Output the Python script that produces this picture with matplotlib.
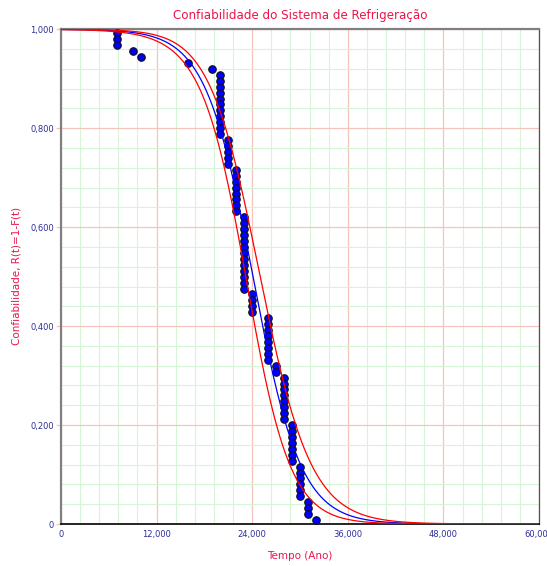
"""Reliability vs time plot for the refrigeration system, with fit and bounds."""
import matplotlib

matplotlib.use("Agg")
import matplotlib.pyplot as plt
import numpy as np
from matplotlib.ticker import MultipleLocator

TITLE = "Confiabilidade do Sistema de Refrigeração"
X_LABEL = "Tempo (Ano)"
Y_LABEL = "Confiabilidade, R(t)=1-F(t)"

# failure times (years), one entry per plotted point
FAILURE_TIMES = [
    7, 7, 7, 9, 10, 16, 19,
    20, 20, 20, 20, 20, 20, 20, 20, 20, 20, 20,
    21, 21, 21, 21, 21,
    22, 22, 22, 22, 22, 22, 22, 22,
    23, 23, 23, 23, 23, 23, 23, 23, 23, 23, 23, 23, 23,
    24, 24, 24, 24,
    26, 26, 26, 26, 26, 26, 26, 26,
    27, 27,
    28, 28, 28, 28, 28, 28, 28, 28,
    29, 29, 29, 29, 29, 29, 29,
    30, 30, 30, 30, 30, 30,
    31, 31, 31,
    32,
]
# plotted reliability of each point
RELIABILITY = [
    0.992, 0.980, 0.968, 0.956, 0.944, 0.932, 0.920,
    0.908, 0.896, 0.884, 0.872, 0.860, 0.848, 0.836, 0.824, 0.812, 0.800, 0.788,
    0.776, 0.764, 0.752, 0.740, 0.728,
    0.716, 0.704, 0.692, 0.680, 0.668, 0.656, 0.644, 0.632,
    0.620, 0.608, 0.596, 0.584, 0.572, 0.560, 0.548, 0.536, 0.524, 0.512,
    0.500, 0.488, 0.476,
    0.464, 0.452, 0.440, 0.428,
    0.416, 0.404, 0.392, 0.380, 0.368, 0.356, 0.344, 0.332,
    0.320, 0.308,
    0.296, 0.284, 0.272, 0.260, 0.248, 0.236, 0.224, 0.212,
    0.200, 0.188, 0.176, 0.164, 0.152, 0.140, 0.128,
    0.116, 0.104, 0.092, 0.080, 0.068, 0.056,
    0.044, 0.032, 0.020,
    0.008,
]

# fitted logistic line and its confidence bounds (time units)
FIT_MU = 24.1
FIT_SCALE = 3.0
BOUND_K = 1.645
VAR_MU = 0.30
VAR_SCALE = 0.035
COV_MU_SCALE = 0.062

X_TICKS = [0, 12, 24, 36, 48, 60]
X_TICK_LABELS = ["0", "12,000", "24,000", "36,000", "48,000", "60,000"]
Y_TICKS = [0, 0.2, 0.4, 0.6, 0.8, 1.0]
Y_TICK_LABELS = ["0", "0,200", "0,400", "0,600", "0,800", "1,000"]

RED_TEXT = "#e8174a"
TICK_TEXT = "#2e2e99"


def fit_curves():
    """Fitted line plus lower/upper bound lines as (time, reliability)."""
    y = np.linspace(-12, 16, 2500)
    rel = 1.0 / (1.0 + np.exp(y))
    t_fit = FIT_MU + FIT_SCALE * y
    half = BOUND_K * np.sqrt(VAR_MU + y ** 2 * VAR_SCALE + 2 * y * COV_MU_SCALE)
    return rel, t_fit, t_fit - half, t_fit + half


fig = plt.figure(figsize=(5.47, 5.66), dpi=100)
ax = fig.add_axes([61 / 547, 1 - 524 / 566, 478 / 547, 494.7 / 566])

ax.plot(FAILURE_TIMES, RELIABILITY, "o", color="#0000ff", markersize=5.4,
        markeredgecolor="#111111", markeredgewidth=0.8, zorder=3)

rel, t_fit, t_lo, t_hi = fit_curves()
ax.plot(t_fit, rel, "-", color="#0000ff", linewidth=0.9, zorder=4)
ax.plot(t_lo, rel, "-", color="#ff0000", linewidth=0.9, zorder=5)
ax.plot(t_hi, rel, "-", color="#ff0000", linewidth=0.9, zorder=5)

ax.set_xlim(0, 60)
ax.set_ylim(0, 1)
ax.set_xticks(X_TICKS, X_TICK_LABELS)
ax.set_yticks(Y_TICKS, Y_TICK_LABELS)
ax.xaxis.set_minor_locator(MultipleLocator(2.4))
ax.yaxis.set_minor_locator(MultipleLocator(0.04))
ax.grid(which="minor", color="#d6f5d6", linewidth=0.8)
ax.grid(which="major", color="#f5c4bd", linewidth=0.9)
ax.set_axisbelow(True)
ax.tick_params(which="major", labelsize=6, labelcolor=TICK_TEXT, color="#f5c4bd",
               length=3.5, width=0.9, pad=1.5)
ax.tick_params(axis="x", which="major", length=0, pad=4)
ax.tick_params(which="minor", length=0)

for side in ["left", "top"]:
    ax.spines[side].set_color("#808080")
    ax.spines[side].set_linewidth(1.6)
ax.spines["right"].set_color("#505050")
ax.spines["right"].set_linewidth(0.9)
ax.spines["bottom"].set_color("black")
ax.spines["bottom"].set_linewidth(1.2)

fig.text(300 / 547, 1 - 16 / 566, TITLE, color=RED_TEXT, fontsize=8.6,
         ha="center", va="center")
fig.text(300 / 547, 1 - 556 / 566, X_LABEL, color=RED_TEXT, fontsize=7.5,
         ha="center", va="center")
fig.text(17 / 547, 1 - 276 / 566, Y_LABEL, color=RED_TEXT, fontsize=7.5,
         ha="center", va="center", rotation=90)

plt.savefig("out.png", dpi=100)
plt.close()
